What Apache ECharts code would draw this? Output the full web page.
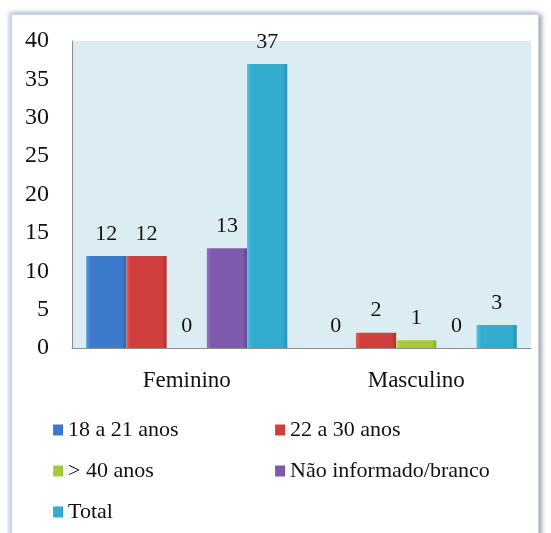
<!DOCTYPE html>
<html>
<head>
<meta charset="utf-8">
<script src="https://cdn.jsdelivr.net/npm/echarts@6/dist/echarts.min.js"></script>
<style>
  html, body { margin: 0; padding: 0; background: #fff; }
  #wrap { position: relative; width: 551px; height: 533px; overflow: hidden; }
  #frame {
    position: absolute; left: 11px; top: 14px; width: 526px; height: 530px;
    border: 1px solid #c9d6e8; background: #fff;
    box-shadow: -2px -2px 4px #b4c8e4, 3px 0 4px #a8a8a8;
  }
  #chart { position: absolute; left: 0; top: 0; width: 551px; height: 533px; }
</style>
</head>
<body>
<div id="wrap">
  <div id="frame"></div>
  <div id="chart"></div>
</div>
<script>
const categories = ['Feminino', 'Masculino'];
const seriesNames = ['18 a 21 anos', '22 a 30 anos', '> 40 anos', 'Não informado/branco', 'Total'];
const age18to21 = [12, 0];
const age22to30 = [12, 2];
const over40 = [0, 1];
const notInformed = [13, 0];
const total = [37, 3];
const yTicks = { min: 0, max: 40, interval: 5 };

// light / base / dark per series, like the bevelled office bars
const palette = [
    ['#5596e0', '#3c7acb', '#2d64ad'],
    ['#e25a56', '#d03f3d', '#b02f2e'],
    ['#bddc55', '#a6c83a', '#8aab28'],
    ['#9271c2', '#7d5aae', '#664596'],
    ['#4cc2e0', '#33acd0', '#2290b4']
];
const values = [age18to21, age22to30, over40, notInformed, total];
const serif = '"Liberation Serif", "Times New Roman", serif';

function barColor(c) {
    return new echarts.graphic.LinearGradient(0, 0, 1, 0, [
        { offset: 0, color: c[0] },
        { offset: 0.12, color: c[1] },
        { offset: 0.88, color: c[1] },
        { offset: 1, color: c[2] }
    ]);
}

const chart = echarts.init(document.getElementById('chart'));

const legendText = { fontFamily: serif, fontSize: 22, color: '#111', lineHeight: 22 };

const option = {
    backgroundColor: 'transparent',
    animation: false,
    grid: {
        left: 72, right: 20, top: 41, bottom: 185,
        show: true, backgroundColor: '#dbedf3', borderWidth: 0
    },
    legend: [
        {
            orient: 'vertical', left: 53, top: 419, itemGap: 19, padding: 0,
            itemWidth: 10, itemHeight: 11, icon: 'rect',
            data: [seriesNames[0], seriesNames[2], seriesNames[4]],
            textStyle: legendText
        },
        {
            orient: 'vertical', left: 275, top: 419, itemGap: 19, padding: 0,
            itemWidth: 10, itemHeight: 11, icon: 'rect',
            data: [seriesNames[1], seriesNames[3]],
            textStyle: legendText
        }
    ],
    xAxis: {
        type: 'category',
        data: categories,
        axisLine: { lineStyle: { color: '#8c8c8c' } },
        axisTick: { show: false },
        axisLabel: { fontFamily: serif, fontSize: 23, color: '#111', margin: 21 }
    },
    yAxis: {
        type: 'value',
        min: yTicks.min, max: yTicks.max, interval: yTicks.interval,
        axisLine: { show: true, lineStyle: { color: '#8c8c8c' } },
        axisTick: { show: false },
        splitLine: { show: false },
        axisLabel: { fontFamily: serif, fontSize: 24, color: '#111', margin: 23 }
    },
    series: seriesNames.map((name, i) => ({
        name: name,
        type: 'bar',
        data: values[i],
        barGap: 0,
        barCategoryGap: '12.4%',
        itemStyle: { color: barColor(palette[i]), borderWidth: 0 },
        label: {
            show: true, position: 'top', distance: 11,
            fontFamily: serif, fontSize: 22, color: '#111'
        }
    }))
};

chart.setOption(option);
</script>
</body>
</html>
